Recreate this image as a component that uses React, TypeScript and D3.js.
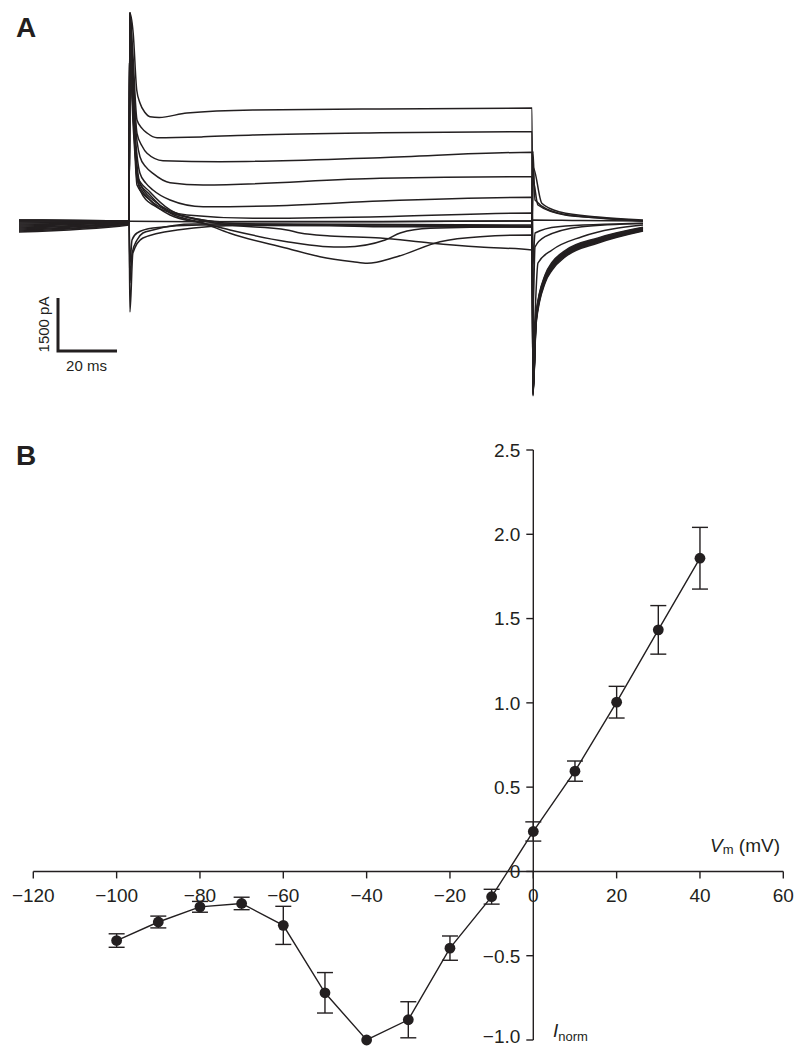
import React from 'react';
import * as d3 from 'd3';

const W = 795;
const H = 1047;
const INK = '#231f20';
const FONT = '"Liberation Sans", Arial, Helvetica, sans-serif';

// ---- panel B: normalised I-V relation ----
const vm = [-100, -90, -80, -70, -60, -50, -40, -30, -20, -10, 0, 10, 20, 30, 40];
const inorm = [-0.41, -0.3, -0.21, -0.19, -0.32, -0.72, -1.0, -0.88, -0.455, -0.15, 0.237, 0.595, 1.004, 1.433, 1.858];
const inormErr = [0.04, 0.035, 0.032, 0.037, 0.113, 0.12, 0, 0.107, 0.072, 0.044, 0.057, 0.06, 0.094, 0.144, 0.183];
const xTicks = [-120, -100, -80, -60, -40, -20, 0, 20, 40, 60];
const yTicks = [-1.0, -0.5, 0, 0.5, 1.0, 1.5, 2.0, 2.5];

// ---- panel A: current traces, [time ms, current pA] ----
const traceP40 = [[0, -226], [37.3, -57], [37.6, 5915], [38.7, 5349], [39.9, 3736], [41.0, 3368], [42.7, 3100], [44.4, 2980], [47.5, 2960], [56.9, 3085], [79.3, 3170], [122.4, 3198], [173.9, 3226], [174.2, -4924], [175.3, -2858], [178.3, -1726], [180.7, -1358], [185.1, -990], [196.3, -594], [211.5, -255]];
const traceP30 = [[0, -283], [37.3, -85], [37.6, 5915], [38.5, 4900], [40.0, 2887], [41.7, 2650], [43.4, 2519], [46.8, 2386], [62.4, 2410], [79.3, 2462], [122.4, 2527], [173.9, 2556], [174.2, -4900], [175.3, -2800], [178.3, -1690], [180.7, -1320], [185.1, -960], [196.3, -570], [211.5, -240]];
const traceP20 = [[0, -255], [37.3, -57], [37.6, 5915], [38.4, 4700], [40.0, 2510], [41.7, 2150], [43.4, 1944], [48.8, 1735], [68.1, 1706], [122.4, 1820], [173.9, 1972], [174.2, -4880], [175.3, -2760], [178.3, -1650], [180.7, -1290], [185.1, -935], [196.3, -550], [211.5, -225]];
const traceP10 = [[0, -198], [37.3, -28], [37.6, 5915], [38.3, 4500], [39.3, 2900], [41.0, 1848], [43.0, 1560], [45.4, 1378], [51.2, 1112], [62.4, 1047], [122.4, 1237], [173.9, 1282], [174.2, -4860], [175.3, -2720], [178.3, -1620], [180.7, -1260], [185.1, -910], [196.3, -530], [211.5, -210]];
const traceP0 = [[0, -170], [37.3, -28], [37.6, 5915], [38.3, 4300], [39.3, 2600], [41.0, 1378], [43.0, 1100], [45.4, 906], [51.2, 623], [62.4, 433], [90.8, 470], [122.4, 594], [173.9, 699], [174.2, -4840], [175.3, -2680], [178.3, -1590], [180.7, -1230], [185.1, -885], [196.3, -510], [211.5, -195]];
const traceM10 = [[0, -142], [37.3, -28], [37.6, 5915], [38.3, 4200], [39.3, 2400], [41.0, 1095], [45.4, 623], [56.9, 198], [79.3, 105], [122.4, 150], [173.9, 255], [174.2, -4820], [175.3, -2640], [178.3, -1560], [180.7, -1200], [185.1, -860], [196.3, -490], [211.5, -180]];
const traceM20 = [[0, -113], [37.3, 0], [37.6, 5915], [38.3, 4100], [39.3, 2200], [41.0, 906], [45.4, 481], [56.9, 150], [68.1, 10], [122.4, 10], [173.9, 28], [174.2, -4800], [175.3, -2600], [178.3, -1530], [180.7, -1170], [185.1, -835], [196.3, -470], [211.5, -165]];
const traceM30 = [[0, -85], [37.3, 0], [37.6, 5915], [38.3, 3900], [39.3, 2200], [40.0, 1189], [44.4, 623], [51.2, 198], [62.4, -37], [71.5, -226], [90.8, -558], [103.0, -690], [110.5, -708], [124.1, -510], [129.2, -311], [139.3, -178], [173.9, -132], [174.2, -4780], [175.3, -2560], [178.3, -1500], [180.7, -1140], [185.1, -810], [196.3, -450], [211.5, -150]];
const traceM40 = [[0, -57], [37.3, 0], [37.6, 5915], [38.3, 4000], [39.3, 2300], [40.0, 1245], [44.4, 764], [51.2, 255], [62.4, -28], [71.5, -320], [90.8, -744], [102.0, -982], [113.2, -1124], [118.0, -1169], [128.1, -982], [142.7, -558], [156.3, -416], [173.9, -368], [174.2, -3500], [175.9, -1160], [180.7, -792], [190.8, -416], [211.5, -85]];
const traceM50 = [[0, -28], [37.3, 0], [37.6, 5915], [38.3, 3800], [39.3, 2100], [40.0, 1302], [44.4, 849], [51.2, 340], [62.4, 28], [71.5, -85], [90.8, -226], [95.3, -311], [105.4, -396], [122.4, -453], [139.3, -594], [156.3, -708], [173.9, -792], [174.2, -2600], [174.9, -708], [178.3, -416], [190.8, -132], [211.5, -40]];
const traceM60 = [[0, 0], [37.3, 28], [37.6, 5915], [38.3, 3500], [39.3, 1900], [40.0, 1047], [44.4, 623], [51.2, 283], [62.4, 57], [71.5, -37], [102.0, -85], [122.4, -133], [173.9, -142], [174.2, -1200], [174.9, -311], [182.7, -133], [211.5, -37]];
const traceM70 = [[0, 28], [37.3, 28], [37.6, 20], [60.0, 10], [120.0, 15], [173.9, 30], [174.2, 55], [190.0, 40], [211.5, 28]];
const traceM80 = [[0, 57], [37.3, 28], [37.6, -1200], [38.3, -509], [40.0, -311], [45.4, -170], [61.4, -85], [122.4, -85], [173.9, -113], [174.2, 1189], [175.9, 481], [185.1, 198], [197.0, 113], [211.5, 28]];
const traceM90 = [[0, 57], [37.3, 28], [37.6, -1726], [38.3, -900], [40.0, -509], [42.0, -311], [45.4, -226], [59.0, -57], [90.8, -57], [173.9, -85], [174.2, 2000], [174.9, 623], [182.7, 255], [196.3, 113], [211.5, 28]];
const traceM100 = [[0, 28], [37.3, 28], [37.6, -2547], [38.6, -877], [42.0, -453], [53.6, -226], [75.9, -100], [122.4, -113], [173.9, -140], [174.2, 1557], [177.2, 529], [183.4, 283], [196.3, 142], [211.5, 57]];

const traces = [traceP40, traceP30, traceP20, traceP10, traceP0, traceM10, traceM20, traceM30, traceM40, traceM50, traceM60, traceM70, traceM80, traceM90, traceM100];

const barMs = 20;
const barPa = 1500;

const fmt = (v: number) => (v === 0 ? '0' : (v < 0 ? '\u2212' : '') + Math.abs(v).toFixed(1));
const fmtX = (v: number) => (v < 0 ? '\u2212' : '') + Math.abs(v);

export default function App() {
    // panel A scales
    const tx = d3.scaleLinear().domain([0, 211.5]).range([19, 643]);
    const iy = d3.scaleLinear().domain([0, 1500]).range([222, 169]);
    const traceLine = d3.line<number[]>()
        .x(d => tx(d[0]))
        .y(d => iy(d[1]))
        .curve(d3.curveMonotoneX);

    const barX = 58;
    const barY = 351;
    const barW = tx(barMs) - tx(0);
    const barH = iy(0) - iy(barPa);

    // panel B scales
    const x = d3.scaleLinear().domain([-120, 60]).range([33.3, 783.3]);
    const y = d3.scaleLinear().domain([-1, 2.5]).range([1040, 450]);
    const ivLine = d3.line<number>()
        .x((d, i) => x(vm[i]))
        .y(d => y(d));

    return (
        <svg width={W} height={H} style={{ position: 'absolute', left: 0, top: 0, background: '#fff' }}
            fontFamily={FONT} fill={INK}>
            <text x={16} y={37} fontSize={28} fontWeight="bold">A</text>
            <text x={16} y={465} fontSize={28} fontWeight="bold">B</text>

            {/* traces */}
            <g fill="none" stroke={INK} strokeWidth={1.5} strokeLinejoin="round">
                {traces.map((tr, i) => (
                    <path key={i} d={traceLine(tr) || ''} />
                ))}
            </g>

            {/* scale bar */}
            <path d={`M${barX},${barY - barH}V${barY}H${barX + barW}`} fill="none" stroke={INK} strokeWidth={3} />
            <text transform={`translate(${barX - 9},${barY - barH / 2}) rotate(-90)`} textAnchor="middle" fontSize={15}>1500 pA</text>
            <text x={barX + barW / 2 - 1} y={370.5} textAnchor="middle" fontSize={15}>20 ms</text>

            {/* axes B */}
            <g stroke={INK} strokeWidth={1.4} fill="none">
                <line x1={x(-120)} x2={x(60)} y1={y(0)} y2={y(0)} />
                <line x1={x(0)} x2={x(0)} y1={y(2.5)} y2={y(-1)} />
                {xTicks.map(t => (
                    <line key={t} x1={x(t)} x2={x(t)} y1={y(0)} y2={y(0) + 7} />
                ))}
                {yTicks.map(t => (
                    <line key={t} x1={x(0) - 7} x2={x(0)} y1={y(t)} y2={y(t)} />
                ))}
            </g>
            <g fontSize={19}>
                {xTicks.map(t => (
                    <text key={t} x={x(t)} y={y(0) + 31} textAnchor="middle">{fmtX(t)}</text>
                ))}
                {yTicks.map(t => (
                    <text key={t} x={x(0) - 13} y={Math.min(y(t) + 6.8, 1043)} textAnchor="end">{fmt(t)}</text>
                ))}
            </g>

            <text x={780} y={852} textAnchor="end" fontSize={19}>
                <tspan fontStyle="italic">V</tspan>
                <tspan fontSize={13} dy={2}>m</tspan>
                <tspan dy={-2}>{' (mV)'}</tspan>
            </text>
            <text x={553} y={1037} fontSize={19}>
                <tspan fontStyle="italic">I</tspan>
                <tspan fontSize={13} dy={4}>norm</tspan>
            </text>

            {/* IV data */}
            <path d={ivLine(inorm) || ''} fill="none" stroke={INK} strokeWidth={1.4} />
            <g stroke={INK} strokeWidth={1.4}>
                {inorm.map((v, i) => inormErr[i] > 0 && (
                    <g key={i}>
                        <line x1={x(vm[i])} x2={x(vm[i])} y1={y(v + inormErr[i])} y2={y(v - inormErr[i])} />
                        <line x1={x(vm[i]) - 8} x2={x(vm[i]) + 8} y1={y(v + inormErr[i])} y2={y(v + inormErr[i])} />
                        <line x1={x(vm[i]) - 8} x2={x(vm[i]) + 8} y1={y(v - inormErr[i])} y2={y(v - inormErr[i])} />
                    </g>
                ))}
            </g>
            {inorm.map((v, i) => (
                <circle key={i} cx={x(vm[i])} cy={y(v)} r={5.4} fill={INK} />
            ))}
        </svg>
    );
}
